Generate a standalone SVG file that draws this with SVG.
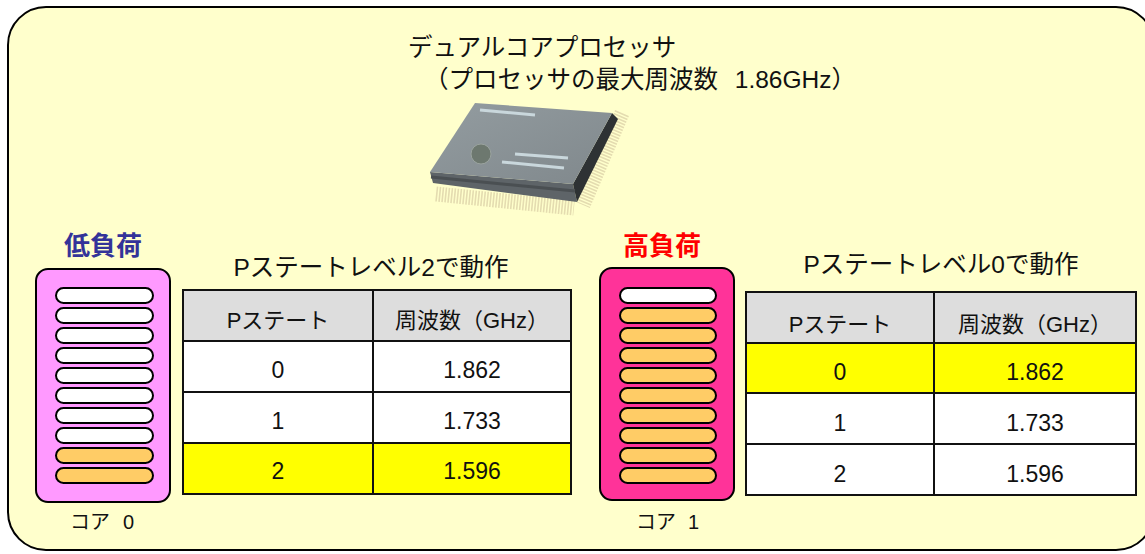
<svg xmlns="http://www.w3.org/2000/svg" width="1145" height="554" viewBox="0 0 1145 554">
  <style>
    .jp { font-family: "Liberation Sans", "Noto Sans CJK JP", sans-serif; fill: #111; }
    .core { stroke: #000; stroke-width: 2; }
    .pill { stroke: #000; stroke-width: 2; }
    .idle { fill: #FFFFFF; }
    .busy { fill: #FFCC66; }
    .cell { stroke: #111; stroke-width: 2; }
    .head { fill: #DDDDDD; }
    .row { fill: #FFFFFF; }
    .on { fill: #FFFF00; }
    .ctext { font-size: 22px; text-anchor: middle; }
    .num { font-size: 23px; text-anchor: middle; }
    .label { font-size: 20px; }
  </style>
  <defs>
    <linearGradient id="chipTop" x1="0" y1="0" x2="1" y2="1">
      <stop offset="0" stop-color="#939CA0"/>
      <stop offset="1" stop-color="#80888C"/>
    </linearGradient>
  </defs>

  <!-- background panel -->
  <rect x="8" y="7" width="1146" height="543" rx="38" ry="38" fill="#FFFFCC" stroke="#000" stroke-width="2"/>

  <!-- heading -->
  <g id="heading">
    <text class="jp" x="408" y="56" font-size="24.5">デュアルコアプロセッサ</text>
    <text class="jp" x="424" y="88" font-size="24.5">（プロセッサの最大周波数 <tspan dx="10">1.86GHz）</tspan></text>
  </g>

  <!-- processor package -->
  <g id="chip">
    <!-- leads -->
    <line x1="436" y1="194" x2="574" y2="208" stroke="#E4DCB0" stroke-width="15" stroke-dasharray="1.6 1.4"/>
    <line x1="622" y1="113" x2="583" y2="205" stroke="#E4DCB0" stroke-width="15" stroke-dasharray="1.6 1.4"/>
    <!-- body -->
    <polygon points="430,172 573,184 577,202 433,183" fill="#5E6468"/>
    <polygon points="612,113 618,119 577,202 573,184" fill="#2E3234"/>
    <polygon points="475,103 612,113 573,184 430,172" fill="url(#chipTop)"/>
    <line x1="431" y1="177" x2="575" y2="191" stroke="#4A4F52" stroke-width="3"/>
    <!-- markings -->
    <line x1="480" y1="110" x2="535" y2="115" stroke="#C9D7DC" stroke-width="3"/>
    <line x1="515" y1="154" x2="568" y2="158" stroke="#C9D7DC" stroke-width="3"/>
    <line x1="502" y1="162" x2="564" y2="168" stroke="#C9D7DC" stroke-width="3"/>
    <ellipse cx="481" cy="154" rx="10" ry="10" fill="#6D786F" stroke="#9AA39E" stroke-width="1"/>
  </g>

  <!-- core 0 : low load -->
  <g id="core0">
    <text class="jp" x="103" y="255" font-size="26" font-weight="bold" text-anchor="middle" style="fill:#333399">低負荷</text>
    <rect class="core" x="36" y="269" width="134" height="233" rx="12" fill="#FF99FF"/>
    <rect class="pill idle" x="56" y="288" width="97" height="15" rx="7.5"/>
    <rect class="pill idle" x="56" y="308" width="97" height="15" rx="7.5"/>
    <rect class="pill idle" x="56" y="328" width="97" height="15" rx="7.5"/>
    <rect class="pill idle" x="56" y="348" width="97" height="15" rx="7.5"/>
    <rect class="pill idle" x="56" y="368" width="97" height="15" rx="7.5"/>
    <rect class="pill idle" x="56" y="388" width="97" height="15" rx="7.5"/>
    <rect class="pill idle" x="56" y="408" width="97" height="15" rx="7.5"/>
    <rect class="pill idle" x="56" y="428" width="97" height="15" rx="7.5"/>
    <rect class="pill busy" x="56" y="448" width="97" height="15" rx="7.5"/>
    <rect class="pill busy" x="56" y="468" width="97" height="15" rx="7.5"/>
    <text class="jp label" x="70" y="529">コア <tspan x="123">0</tspan></text>
  </g>

  <!-- core 1 : high load -->
  <g id="core1">
    <text class="jp" x="662" y="255" font-size="26" font-weight="bold" text-anchor="middle" style="fill:#FF0000">高負荷</text>
    <rect class="core" x="600" y="268" width="134" height="232" rx="12" fill="#FF3399"/>
    <rect class="pill idle" x="620" y="288" width="96" height="15" rx="7.5"/>
    <rect class="pill busy" x="620" y="308" width="96" height="15" rx="7.5"/>
    <rect class="pill busy" x="620" y="328" width="96" height="15" rx="7.5"/>
    <rect class="pill busy" x="620" y="348" width="96" height="15" rx="7.5"/>
    <rect class="pill busy" x="620" y="368" width="96" height="15" rx="7.5"/>
    <rect class="pill busy" x="620" y="388" width="96" height="15" rx="7.5"/>
    <rect class="pill busy" x="620" y="408" width="96" height="15" rx="7.5"/>
    <rect class="pill busy" x="620" y="428" width="96" height="15" rx="7.5"/>
    <rect class="pill busy" x="620" y="448" width="96" height="15" rx="7.5"/>
    <rect class="pill busy" x="620" y="468" width="96" height="15" rx="7.5"/>
    <text class="jp label" x="636" y="529">コア <tspan x="688">1</tspan></text>
  </g>

  <!-- P-state table for core 0 -->
  <g id="table0">
    <text class="jp" x="371" y="276" font-size="24.5" text-anchor="middle">Pステートレベル2で動作</text>
    <rect class="cell head" x="183" y="290" width="190" height="51"/>
    <rect class="cell head" x="373" y="290" width="198" height="51"/>
    <rect class="cell row" x="183" y="341" width="190" height="51"/>
    <rect class="cell row" x="373" y="341" width="198" height="51"/>
    <rect class="cell row" x="183" y="392" width="190" height="51"/>
    <rect class="cell row" x="373" y="392" width="198" height="51"/>
    <rect class="cell on" x="183" y="443" width="190" height="51"/>
    <rect class="cell on" x="373" y="443" width="198" height="51"/>
    <text class="jp ctext" x="278" y="328">Pステート</text>
    <text class="jp ctext" x="472" y="328">周波数（GHz）</text>
    <text class="jp num" x="278" y="378">0</text>
    <text class="jp num" x="472" y="378">1.862</text>
    <text class="jp num" x="278" y="429">1</text>
    <text class="jp num" x="472" y="429">1.733</text>
    <text class="jp num" x="278" y="479">2</text>
    <text class="jp num" x="472" y="479">1.596</text>
  </g>

  <!-- P-state table for core 1 -->
  <g id="table1">
    <text class="jp" x="941" y="273" font-size="24.5" text-anchor="middle">Pステートレベル0で動作</text>
    <rect class="cell head" x="746" y="292" width="188" height="51"/>
    <rect class="cell head" x="934" y="292" width="202" height="51"/>
    <rect class="cell on" x="746" y="343" width="188" height="50"/>
    <rect class="cell on" x="934" y="343" width="202" height="50"/>
    <rect class="cell row" x="746" y="393" width="188" height="51"/>
    <rect class="cell row" x="934" y="393" width="202" height="51"/>
    <rect class="cell row" x="746" y="444" width="188" height="51"/>
    <rect class="cell row" x="934" y="444" width="202" height="51"/>
    <text class="jp ctext" x="840" y="332">Pステート</text>
    <text class="jp ctext" x="1035" y="332">周波数（GHz）</text>
    <text class="jp num" x="840" y="380">0</text>
    <text class="jp num" x="1035" y="380">1.862</text>
    <text class="jp num" x="840" y="431">1</text>
    <text class="jp num" x="1035" y="431">1.733</text>
    <text class="jp num" x="840" y="482">2</text>
    <text class="jp num" x="1035" y="482">1.596</text>
  </g>
</svg>
